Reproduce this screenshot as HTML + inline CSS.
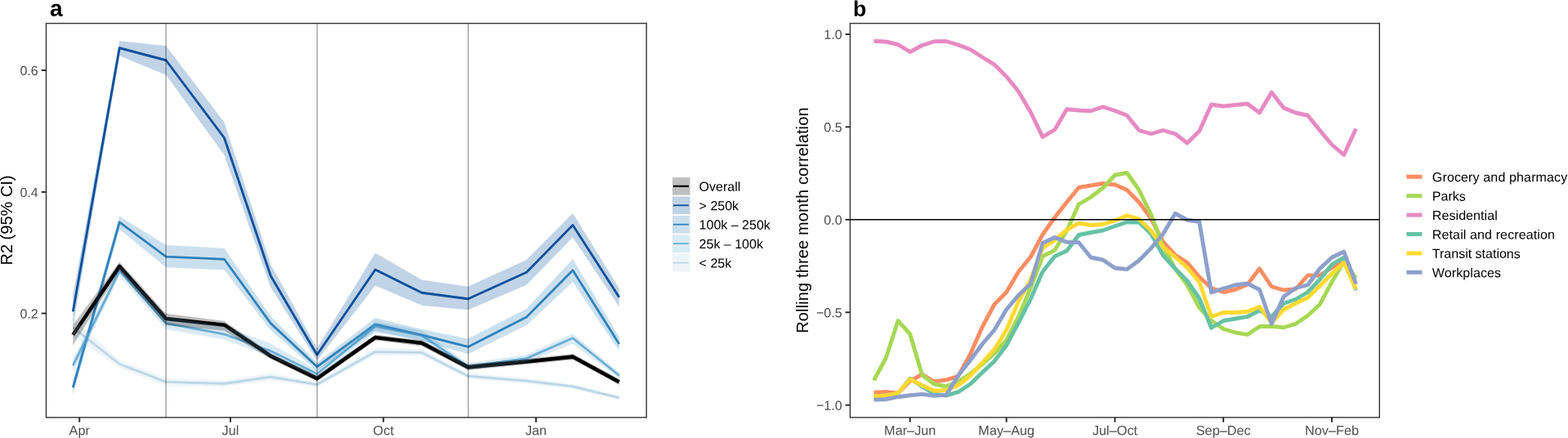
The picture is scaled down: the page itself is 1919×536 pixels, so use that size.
<!DOCTYPE html>
<html lang="en">
<head>
<meta charset="utf-8">
<title>Figure: R2 and rolling three month correlation</title>
<style>
html,body{margin:0;padding:0;background:#fff;}
body{width:1919px;height:536px;overflow:hidden;}
svg{display:block;font-family:"Liberation Sans", Arial, Helvetica, sans-serif;}
.tick{font-size:16px;fill:#4d4d4d;}
.xt{font-size:16.3px;}
.leg{font-size:16px;fill:#000;}
.title{font-size:20px;fill:#000;}
.tag{font-size:28px;font-weight:bold;fill:#000;}
</style>
</head>
<body>
<svg width="1919" height="536" viewBox="0 0 1919 536">
<rect x="0" y="0" width="1919" height="536" fill="#fff"/>
<g id="panel-a">
<clipPath id="ca"><rect x="56.5" y="28.6" width="734.65" height="482.25"/></clipPath>
<g clip-path="url(#ca)">
<polyline points="89.3,400.6 146.25,445.5 203.2,467.4 274.5,469.5 331.25,461.25 388,470.6 459.3,430.6 516.25,431.5 572.85,460.25 644.35,466.1 701,473 757.8,486.75" fill="none" stroke="#bdd7e7" stroke-width="2.85" stroke-linejoin="round" stroke-linecap="butt"/>
<polyline points="89.3,447.4 146.25,331.5 203.2,395.6 274.5,409 331.25,429.5 388,457.5 459.3,399.4 516.25,410.5 572.85,448.6 644.35,438.6 701,413.75 757.8,459.5" fill="none" stroke="#6baed6" stroke-width="2.85" stroke-linejoin="round" stroke-linecap="butt"/>
<polyline points="89.3,474.25 146.25,271.9 203.2,314.1 274.5,317.25 331.25,395.6 388,448.75 459.3,396.9 516.25,410 572.85,424.4 644.35,388.1 701,330.75 757.8,421" fill="none" stroke="#3182bd" stroke-width="2.85" stroke-linejoin="round" stroke-linecap="butt"/>
<polyline points="89.3,381.25 146.25,58.75 203.2,73.75 274.5,168.75 331.25,337.5 388,434.2 459.3,330 516.25,358.25 572.85,365.75 644.35,333.25 701,275.5 757.8,363.7" fill="none" stroke="#08519c" stroke-width="2.85" stroke-linejoin="round" stroke-linecap="butt"/>
<polyline points="89.3,409.8 146.25,326 203.2,390 274.5,397.7 331.25,435.6 388,463.1 459.3,413 516.25,419.8 572.85,449.4 644.35,442.5 701,436.6 757.8,467.4" fill="none" stroke="#000000" stroke-width="4.6" stroke-linejoin="round" stroke-linecap="butt"/>
<polygon points="89.3,389.6 146.25,441.1 203.2,462.4 274.5,465.8 331.25,456.85 388,467.2 459.3,425.6 516.25,426.9 572.85,456.75 644.35,462.6 701,470 757.8,484.75 757.8,488.75 701,476 644.35,469.6 572.85,463.75 516.25,435.6 459.3,434.7 388,473.8 331.25,465.25 274.5,473.2 203.2,472.4 146.25,449.9 89.3,411.6" fill="#bdd7e7" fill-opacity="0.25"/>
<polygon points="89.3,439.4 146.25,325.5 203.2,387.1 274.5,399.5 331.25,420.5 388,452.5 459.3,393.4 516.25,404.5 572.85,444.6 644.35,434 701,408.15 757.8,456 757.8,463 701,420.65 644.35,443.6 572.85,452.6 516.25,416.5 459.3,406.9 388,462.5 331.25,436.5 274.5,415.5 203.2,403.1 146.25,337.5 89.3,455.4" fill="#6baed6" fill-opacity="0.25"/>
<polygon points="89.3,465.25 146.25,264.4 203.2,300.1 274.5,303.75 331.25,387.1 388,443.75 459.3,388.9 516.25,403 572.85,414.4 644.35,378.1 701,317 757.8,412.5 757.8,429.5 701,345 644.35,398.1 572.85,433.15 516.25,417 459.3,404.9 388,453.75 331.25,404.1 274.5,330.35 203.2,327.2 146.25,280.6 89.3,483.25" fill="#3182bd" fill-opacity="0.25"/>
<polygon points="89.3,361.25 146.25,50 203.2,56.25 274.5,149.75 331.25,323.5 388,426.2 459.3,309.5 516.25,342.5 572.85,350.75 644.35,318 701,261 757.8,352.95 757.8,375.5 701,290.5 644.35,348.75 572.85,379.25 516.25,373.75 459.3,349.5 388,441.2 331.25,351.5 274.5,189.75 203.2,91.75 146.25,68.15 89.3,400.25" fill="#08519c" fill-opacity="0.25"/>
<polygon points="89.3,397.8 146.25,320.5 203.2,383.75 274.5,392.7 331.25,432 388,459.5 459.3,409.4 516.25,416.2 572.85,445.8 644.35,438.9 701,433 757.8,463.8 757.8,471 701,440.2 644.35,446.1 572.85,453 516.25,423.4 459.3,416.6 388,466.7 331.25,439.2 274.5,404.7 203.2,398 146.25,331.5 89.3,422.8" fill="#000000" fill-opacity="0.25"/>
<line x1="203.11" y1="28.6" x2="203.11" y2="510.85" stroke="#000000" stroke-opacity="0.4" stroke-width="1.33"/>
<line x1="388.11" y1="28.6" x2="388.11" y2="510.85" stroke="#000000" stroke-opacity="0.4" stroke-width="1.33"/>
<line x1="573.11" y1="28.6" x2="573.11" y2="510.85" stroke="#000000" stroke-opacity="0.4" stroke-width="1.33"/>
</g>
<rect x="56.5" y="28.6" width="734.65" height="482.25" fill="none" stroke="#333333" stroke-width="1.4"/>
<line x1="97.25" y1="510.85" x2="97.25" y2="516.65" stroke="#262626" stroke-width="1.9"/><text class="tick xt" transform="translate(97.25,532.2) rotate(0.05)" text-anchor="middle">Apr</text>
<line x1="282" y1="510.85" x2="282" y2="516.65" stroke="#262626" stroke-width="1.9"/><text class="tick xt" transform="translate(282,532.2) rotate(0.05)" text-anchor="middle">Jul</text>
<line x1="469.25" y1="510.85" x2="469.25" y2="516.65" stroke="#262626" stroke-width="1.9"/><text class="tick xt" transform="translate(469.25,532.2) rotate(0.05)" text-anchor="middle">Oct</text>
<line x1="656" y1="510.85" x2="656" y2="516.65" stroke="#262626" stroke-width="1.9"/><text class="tick xt" transform="translate(656,532.2) rotate(0.05)" text-anchor="middle">Jan</text>
<line x1="50.7" y1="86" x2="56.5" y2="86" stroke="#262626" stroke-width="1.9"/><text class="tick" transform="translate(46.7,91.95) rotate(0.05)" text-anchor="end">0.6</text>
<line x1="50.7" y1="235" x2="56.5" y2="235" stroke="#262626" stroke-width="1.9"/><text class="tick" transform="translate(46.7,240.95) rotate(0.05)" text-anchor="end">0.4</text>
<line x1="50.7" y1="383.5" x2="56.5" y2="383.5" stroke="#262626" stroke-width="1.9"/><text class="tick" transform="translate(46.7,389.45) rotate(0.05)" text-anchor="end">0.2</text>
<text class="title" transform="translate(14.6,269.5) rotate(-90)" text-anchor="middle">R2 (95% CI)</text>
<text class="tag" transform="translate(61,19.75) rotate(0.05)">a</text>
<rect x="822.9" y="217.1" width="21.6" height="21.6" fill="#000000" fill-opacity="0.25"/><line x1="824" y1="227.9" x2="843" y2="227.9" stroke="#000000" stroke-width="2.3"/><text class="leg" transform="translate(855.6,233.77) rotate(0.05)">Overall</text>
<rect x="822.9" y="240.5" width="21.6" height="21.6" fill="#08519c" fill-opacity="0.25"/><line x1="824" y1="251.3" x2="843" y2="251.3" stroke="#08519c" stroke-width="1.8"/><text class="leg" transform="translate(855.6,257.17) rotate(0.05)">&gt; 250k</text>
<rect x="822.9" y="263.9" width="21.6" height="21.6" fill="#3182bd" fill-opacity="0.25"/><line x1="824" y1="274.7" x2="843" y2="274.7" stroke="#3182bd" stroke-width="1.8"/><text class="leg" transform="translate(855.6,280.57) rotate(0.05)">100k – 250k</text>
<rect x="822.9" y="287.3" width="21.6" height="21.6" fill="#6baed6" fill-opacity="0.25"/><line x1="824" y1="298.1" x2="843" y2="298.1" stroke="#6baed6" stroke-width="1.8"/><text class="leg" transform="translate(855.6,303.97) rotate(0.05)">25k – 100k</text>
<rect x="822.9" y="310.7" width="21.6" height="21.6" fill="#bdd7e7" fill-opacity="0.25"/><line x1="824" y1="321.5" x2="843" y2="321.5" stroke="#bdd7e7" stroke-width="1.8"/><text class="leg" transform="translate(855.6,327.37) rotate(0.05)">&lt; 25k</text>
</g>
<g id="panel-b">
<clipPath id="cb"><rect x="1040.4" y="28.6" width="647.9" height="482.25"/></clipPath>
<g clip-path="url(#cb)">
<polyline points="1069.5,480.4 1084.25,479.4 1099,481.2 1113.75,466.3 1128.5,458 1143.25,467 1158,464.8 1172.75,460.3 1187.5,433.4 1202.25,400 1217,372.5 1231.75,357.5 1246.5,332.5 1261.25,314.5 1276,287 1290.75,266.25 1305.5,247.5 1320.25,229.5 1335,227 1349.75,224.5 1364.5,226 1379.25,232.5 1394,247.5 1408.75,267.5 1423.5,296 1438.25,312 1453,321.25 1467.75,338.75 1482.5,352.5 1497.25,357.5 1512,354.25 1526.75,348 1541.5,328.75 1556.25,350.75 1571,355 1585.75,353.75 1600.5,337 1615.25,337 1630,327.5 1644.75,317.5 1659.5,348" fill="none" stroke="#fc8d62" stroke-width="4.9" stroke-linejoin="round" stroke-linecap="butt"/>
<polyline points="1069.5,465.5 1084.25,438 1099,392.5 1113.75,408.75 1128.5,458.8 1143.25,470 1158,473 1172.75,467 1187.5,457.5 1202.25,445.5 1217,432.5 1231.75,416.25 1246.5,387.5 1261.25,352.5 1276,313.75 1290.75,306.25 1305.5,282.5 1320.25,250 1335,241.25 1349.75,230 1364.5,214.25 1379.25,211.5 1394,232.5 1408.75,262.5 1423.5,302 1438.25,329 1453,348.75 1467.75,376.25 1482.5,392.5 1497.25,402.5 1512,407 1526.75,409.5 1541.5,399.5 1556.25,399.25 1571,400.75 1585.75,396.25 1600.5,386.25 1615.25,372.5 1630,345 1644.75,320 1659.5,340.5" fill="none" stroke="#a6d854" stroke-width="4.9" stroke-linejoin="round" stroke-linecap="butt"/>
<polyline points="1069.5,50.25 1084.25,51 1099,54.5 1113.75,63.5 1128.5,55.5 1143.25,50.75 1158,50.5 1172.75,55 1187.5,60.5 1202.25,70 1217,79 1231.75,93.75 1246.5,112 1261.25,137 1276,167.6 1290.75,158.75 1305.5,133.75 1320.25,135 1335,135.75 1349.75,130.75 1364.5,135.5 1379.25,141.25 1394,159.5 1408.75,163.75 1423.5,159.5 1438.25,163.75 1453,175 1467.75,160.5 1482.5,128 1497.25,130 1512,128.5 1526.75,127 1541.5,138 1556.25,113 1571,132 1585.75,138 1600.5,141.25 1615.25,159.5 1630,177 1644.75,189.5 1659.5,157.5" fill="none" stroke="#e78ac3" stroke-width="4.9" stroke-linejoin="round" stroke-linecap="butt"/>
<polyline points="1069.5,485 1084.25,484 1099,481.5 1113.75,463.3 1128.5,473 1143.25,482 1158,484.2 1172.75,479.7 1187.5,470 1202.25,455.8 1217,442 1231.75,422.5 1246.5,395 1261.25,366.25 1276,332.5 1290.75,313.75 1305.5,307 1320.25,287.5 1335,284.5 1349.75,282 1364.5,276.75 1379.25,271.75 1394,272 1408.75,286.25 1423.5,312.5 1438.25,328.75 1453,343.75 1467.75,365 1482.5,401.25 1497.25,392.5 1512,390 1526.75,387.5 1541.5,380 1556.25,387.5 1571,371.25 1585.75,366.25 1600.5,357.5 1615.25,342 1630,323.75 1644.75,315 1659.5,355" fill="none" stroke="#66c2a5" stroke-width="4.9" stroke-linejoin="round" stroke-linecap="butt"/>
<polyline points="1069.5,484.9 1084.25,483.9 1099,481.2 1113.75,464 1128.5,471.5 1143.25,478.2 1158,477.5 1172.75,471.5 1187.5,459.5 1202.25,443.9 1217,427.5 1231.75,403.75 1246.5,368.75 1261.25,342.5 1276,303.75 1290.75,293.75 1305.5,281.25 1320.25,273 1335,275.5 1349.75,274.5 1364.5,270 1379.25,263.75 1394,268 1408.75,282.5 1423.5,302.5 1438.25,314.5 1453,327.5 1467.75,345 1482.5,387.5 1497.25,382.5 1512,382.5 1526.75,381.25 1541.5,375.5 1556.25,395 1571,378.75 1585.75,371.25 1600.5,364.25 1615.25,350 1630,335 1644.75,321.25 1659.5,353.7" fill="none" stroke="#ffd92f" stroke-width="4.9" stroke-linejoin="round" stroke-linecap="butt"/>
<polyline points="1069.5,489.1 1084.25,488.7 1099,485.7 1113.75,483.7 1128.5,482.4 1143.25,484.2 1158,483.4 1172.75,459.5 1187.5,441 1202.25,421 1217,403.75 1231.75,378.75 1246.5,361.25 1261.25,347.5 1276,297.5 1290.75,290.5 1305.5,296.25 1320.25,296.75 1335,315 1349.75,318 1364.5,328 1379.25,329.5 1394,318.75 1408.75,303.75 1423.5,286.25 1438.25,261.25 1453,269.25 1467.75,271.25 1482.5,358 1497.25,353 1512,348.75 1526.75,347 1541.5,354.5 1556.25,396.25 1571,363 1585.75,352.5 1600.5,348.75 1615.25,328.75 1630,315 1644.75,308 1659.5,347.2" fill="none" stroke="#8da0cb" stroke-width="4.9" stroke-linejoin="round" stroke-linecap="butt"/>
<line x1="1040.4" y1="268.72" x2="1688.3" y2="268.72" stroke="#000" stroke-width="1.45"/>
</g>
<rect x="1040.4" y="28.6" width="647.9" height="482.25" fill="none" stroke="#333333" stroke-width="1.4"/>
<line x1="1113.75" y1="510.85" x2="1113.75" y2="516.65" stroke="#262626" stroke-width="1.9"/><text class="tick xt" transform="translate(1113.75,532.2) rotate(0.05)" text-anchor="middle">Mar–Jun</text>
<line x1="1231.75" y1="510.85" x2="1231.75" y2="516.65" stroke="#262626" stroke-width="1.9"/><text class="tick xt" transform="translate(1231.75,532.2) rotate(0.05)" text-anchor="middle">May–Aug</text>
<line x1="1364.5" y1="510.85" x2="1364.5" y2="516.65" stroke="#262626" stroke-width="1.9"/><text class="tick xt" transform="translate(1364.5,532.2) rotate(0.05)" text-anchor="middle">Jul–Oct</text>
<line x1="1497.2" y1="510.85" x2="1497.2" y2="516.65" stroke="#262626" stroke-width="1.9"/><text class="tick xt" transform="translate(1497.2,532.2) rotate(0.05)" text-anchor="middle">Sep–Dec</text>
<line x1="1630" y1="510.85" x2="1630" y2="516.65" stroke="#262626" stroke-width="1.9"/><text class="tick xt" transform="translate(1630,532.2) rotate(0.05)" text-anchor="middle">Nov–Feb</text>
<line x1="1034.6" y1="41.9" x2="1040.4" y2="41.9" stroke="#262626" stroke-width="1.9"/><text class="tick" transform="translate(1030.6,47.85) rotate(0.05)" text-anchor="end">1.0</text>
<line x1="1034.6" y1="155.35" x2="1040.4" y2="155.35" stroke="#262626" stroke-width="1.9"/><text class="tick" transform="translate(1030.6,161.3) rotate(0.05)" text-anchor="end">0.5</text>
<line x1="1034.6" y1="268.8" x2="1040.4" y2="268.8" stroke="#262626" stroke-width="1.9"/><text class="tick" transform="translate(1030.6,274.75) rotate(0.05)" text-anchor="end">0.0</text>
<line x1="1034.6" y1="382.25" x2="1040.4" y2="382.25" stroke="#262626" stroke-width="1.9"/><text class="tick" transform="translate(1030.6,388.2) rotate(0.05)" text-anchor="end">−0.5</text>
<line x1="1034.6" y1="495.7" x2="1040.4" y2="495.7" stroke="#262626" stroke-width="1.9"/><text class="tick" transform="translate(1030.6,501.65) rotate(0.05)" text-anchor="end">−1.0</text>
<text class="title" transform="translate(989.1,269.5) rotate(-90)" text-anchor="middle" letter-spacing="0.13">Rolling three month correlation</text>
<text class="tag" transform="translate(1044.1,19.75) rotate(0.05)" style="font-size:26.6px">b</text>
<line x1="1721.4" y1="216.3" x2="1740.4" y2="216.3" stroke="#fc8d62" stroke-width="5"/><text class="leg" transform="translate(1752.85,222.2) rotate(0.05)" letter-spacing="0.14">Grocery and pharmacy</text>
<line x1="1721.4" y1="239.7" x2="1740.4" y2="239.7" stroke="#a6d854" stroke-width="5"/><text class="leg" transform="translate(1752.85,245.6) rotate(0.05)">Parks</text>
<line x1="1721.4" y1="263.1" x2="1740.4" y2="263.1" stroke="#e78ac3" stroke-width="5"/><text class="leg" transform="translate(1752.85,269) rotate(0.05)" letter-spacing="0.07">Residential</text>
<line x1="1721.4" y1="286.5" x2="1740.4" y2="286.5" stroke="#66c2a5" stroke-width="5"/><text class="leg" transform="translate(1752.85,292.4) rotate(0.05)" letter-spacing="0.12">Retail and recreation</text>
<line x1="1721.4" y1="309.9" x2="1740.4" y2="309.9" stroke="#ffd92f" stroke-width="5"/><text class="leg" transform="translate(1752.85,315.8) rotate(0.05)">Transit stations</text>
<line x1="1721.4" y1="333.3" x2="1740.4" y2="333.3" stroke="#8da0cb" stroke-width="5"/><text class="leg" transform="translate(1752.85,339.2) rotate(0.05)" letter-spacing="0.1">Workplaces</text>
</g>
</svg>
</body>
</html>
